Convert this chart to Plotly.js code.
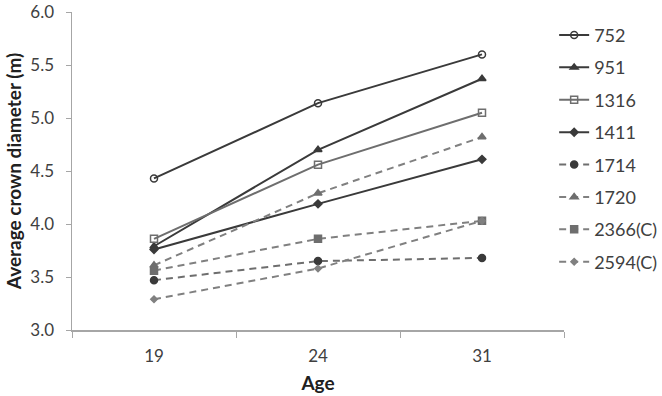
<!DOCTYPE html>
<html><head><meta charset="utf-8">
<script src="https://cdn.plot.ly/plotly-3.0.1.min.js"></script>
<style>body{margin:0;background:#fff}#c{width:662px;height:396px}</style>
</head><body><div id="c"></div>
<script>
const ages = ["19", "24", "31"];
const names = ["752", "951", "1316", "1411", "1714", "1720", "2366(C)", "2594(C)"];
const s752 = [4.43, 5.14, 5.60];
const s951 = [3.79, 4.70, 5.37];
const s1316 = [3.86, 4.56, 5.05];
const s1411 = [3.76, 4.19, 4.61];
const s1714 = [3.47, 3.65, 3.68];
const s1720 = [3.61, 4.29, 4.82];
const s2366 = [3.56, 3.86, 4.03];
const s2594 = [3.29, 3.58, 4.03];
const yTicks = [3.0, 3.5, 4.0, 4.5, 5.0, 5.5, 6.0];

const series = [s752, s951, s1316, s1411, s1714, s1720, s2366, s2594];
const styles = [
  {lc:'#3a3a3a', dash:'solid', sym:'circle-open', mc:'#3a3a3a', ms:7},
  {lc:'#3a3a3a', dash:'solid', sym:'triangle-up', mc:'#3a3a3a', ms:7},
  {lc:'#6e6e6e', dash:'solid', sym:'square-open', mc:'#6e6e6e', ms:7},
  {lc:'#3a3a3a', dash:'solid', sym:'diamond', mc:'#3a3a3a', ms:6},
  {lc:'#6e6e6e', dash:'7px,5px', sym:'circle', mc:'#3a3a3a', ms:7},
  {lc:'#808080', dash:'7px,5px', sym:'triangle-up', mc:'#6e6e6e', ms:7},
  {lc:'#808080', dash:'7px,5px', sym:'square', mc:'#6e6e6e', ms:7},
  {lc:'#808080', dash:'7px,5px', sym:'diamond', mc:'#808080', ms:5}
];
const traces = series.map((s, i) => ({
  x: ages, y: s, name: names[i], type: 'scatter', mode: 'lines+markers',
  legendgroup: 'g' + i,
  line: {color: styles[i].lc, width: 2, dash: styles[i].dash},
  marker: {symbol: styles[i].sym, size: styles[i].ms, color: styles[i].mc,
           line: {color: styles[i].mc, width: 1.5}}
}));
const font = "Lato, 'Open Sans', sans-serif";
const layout = {
  width: 662, height: 396,
  margin: {l: 72, r: 98, t: 12, b: 66, autoexpand: false},
  paper_bgcolor: '#fff', plot_bgcolor: '#fff',
  font: {family: font, color: '#404040', size: 17},
  showlegend: true,
  legend: {x: 0.98, xanchor: 'left', y: 0.985, yanchor: 'top',
           font: {family: font, size: 18, color: '#404040'},
           traceorder: 'grouped', tracegroupgap: 6, itemwidth: 30},
  xaxis: {type: 'category', range: [-0.5, 2.5], showline: true, linecolor: '#a6a6a6',
          linewidth: 1.5, ticks: 'outside', tickson: 'boundaries', ticklen: 6,
          tickcolor: '#a6a6a6', showgrid: false, zeroline: false, ticklabelstandoff: 10,
          tickfont: {size: 17, color: '#404040'},
          title: {text: 'Age', font: {size: 19, color: '#202020', weight: 'bold'}, standoff: 12}},
  yaxis: {range: [3.0, 6.0], tickvals: yTicks, ticktext: yTicks.map(v => v.toFixed(1)),
          showline: true, linecolor: '#a6a6a6', linewidth: 1.5, ticks: 'outside',
          ticklen: 5, tickcolor: '#a6a6a6', showgrid: false, zeroline: false,
          ticklabelstandoff: 8, ticklabeloverflow: 'allow',
          tickfont: {size: 17, color: '#404040'},
          title: {text: 'Average crown diameter (m)', font: {size: 19, color: '#202020', weight: 'bold'}, standoff: 3}}
};
Plotly.newPlot('c', traces, layout, {displayModeBar: false, staticPlot: true});
</script></body></html>
